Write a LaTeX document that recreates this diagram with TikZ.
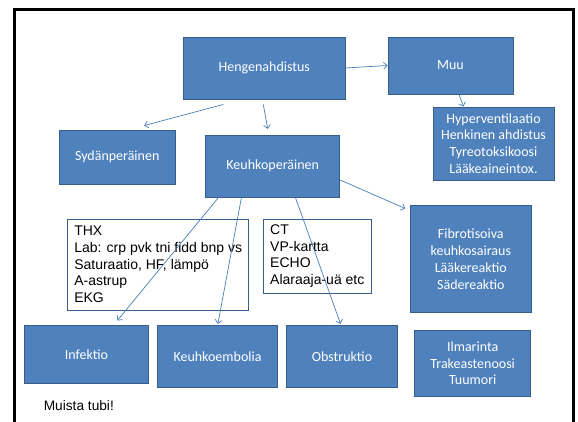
\documentclass[tikz,border=0pt]{standalone}
\usepackage{fontspec}
\newfontfamily\calfont{Carlito}
\newfontfamily\arifont{Liberation Sans}
\usetikzlibrary{arrows.meta}
\definecolor{boxfill}{HTML}{4F81BD}
\definecolor{boxline}{HTML}{385D8A}
\definecolor{arrowcol}{HTML}{4A7EBB}
\tikzset{
  bluebox/.style={draw=boxline, fill=boxfill, line width=0.9pt, text=white, align=center,
    font=\calfont\fontsize{14}{16.8}\selectfont, inner sep=0pt},
  textbox/.style={draw=boxline, line width=0.9pt, fill=white, text=black, align=left,
    font=\arifont\fontsize{14}{16.7}\selectfont, inner xsep=6.6pt, inner ysep=0pt},
  conn/.style={draw=arrowcol, line width=0.7pt, -{Straight Barb[length=3.5pt,width=7pt]}}
}
\begin{document}
\begin{tikzpicture}[x=1pt,y=-1pt]
\useasboundingbox (0,0) rectangle (578,422);
\fill[white] (0,0) rectangle (578,422);
\draw[line width=3pt] (14.5,430) -- (14.5,9.5) -- (573.5,9.5) -- (573.5,430);

\node[bluebox, minimum width=161.5pt, minimum height=62pt] (hen) at (264.3,68) {Hengenahdistus};
\node[bluebox, minimum width=125pt, minimum height=57pt] (muu) at (450.5,65.5) {Muu};
\node[bluebox, minimum width=121pt, minimum height=73pt] (hyp) at (493.5,143.5) {Hyperventilaatio\\Henkinen ahdistus\\Tyreotoksikoosi\\Lääkeaineintox.};
\node[bluebox, minimum width=116.4pt, minimum height=54pt] (syd) at (117.2,157) {Sydänperäinen};
\node[bluebox, minimum width=134pt, minimum height=62pt] (keu) at (272.7,166) {Keuhkoperäinen};
\node[bluebox, minimum width=120.4pt, minimum height=106.7pt] (fib) at (470.8,259.3) {Fibrotisoiva\\keuhkosairaus\\Lääkereaktio\\Sädereaktio};
\node[textbox, minimum width=179.7pt, minimum height=91pt] (thx) at (158.2,264.5) {THX\\Lab: crp pvk tni fidd bnp vs\\Saturaatio, HF, lämpö\\A-astrup\\EKG};
\node[textbox, minimum width=107.3pt, minimum height=74pt] (ct) at (317.3,256) {CT\\VP-kartta\\ECHO\\Alaraaja-uä etc};
\node[bluebox, minimum width=124.8pt, minimum height=57.3pt] (inf) at (86.4,354.3) {Infektio};
\node[bluebox, minimum width=120.4pt, minimum height=62pt] (kem) at (217.5,356.7) {Keuhkoembolia};
\node[bluebox, minimum width=111.5pt, minimum height=62pt] (obs) at (342,356.7) {Obstruktio};
\node[bluebox, minimum width=115.9pt, minimum height=66.7pt] (ilm) at (472.7,363.3) {Ilmarinta\\Trakeastenoosi\\Tuumori};
\node[font=\arifont\fontsize{13.7}{16}\selectfont, anchor=west, inner sep=0pt] (tubi) at (43.6,405.7) {Muista tubi!};

\draw[conn] (hen.east) -- (muu.west);
\draw[conn] ([xshift=8.5pt]muu.south) -- ([xshift=-30pt]hyp.north);
\draw[conn] ([xshift=-41pt,yshift=-5pt]hen.south) -- ([xshift=27pt,yshift=4pt]syd.north);
\draw[conn] ([xshift=-1pt,yshift=-5pt]hen.south) -- ([xshift=-5pt,yshift=5.7pt]keu.north);
\draw[conn] ([yshift=-14pt]keu.east) -- ([xshift=-5pt,yshift=-3pt]fib.north west);
\draw[conn] ([xshift=13.3pt]keu.south west) -- ([xshift=31pt,yshift=4.7pt]inf.north);
\draw[conn] ([xshift=36.2pt]keu.south west) -- ([xshift=0.4pt,yshift=1.4pt]kem.north);
\draw[conn] ([xshift=22.7pt]keu.south) -- ([xshift=-1.5pt,yshift=1.4pt]obs.north);
\end{tikzpicture}
\end{document}
